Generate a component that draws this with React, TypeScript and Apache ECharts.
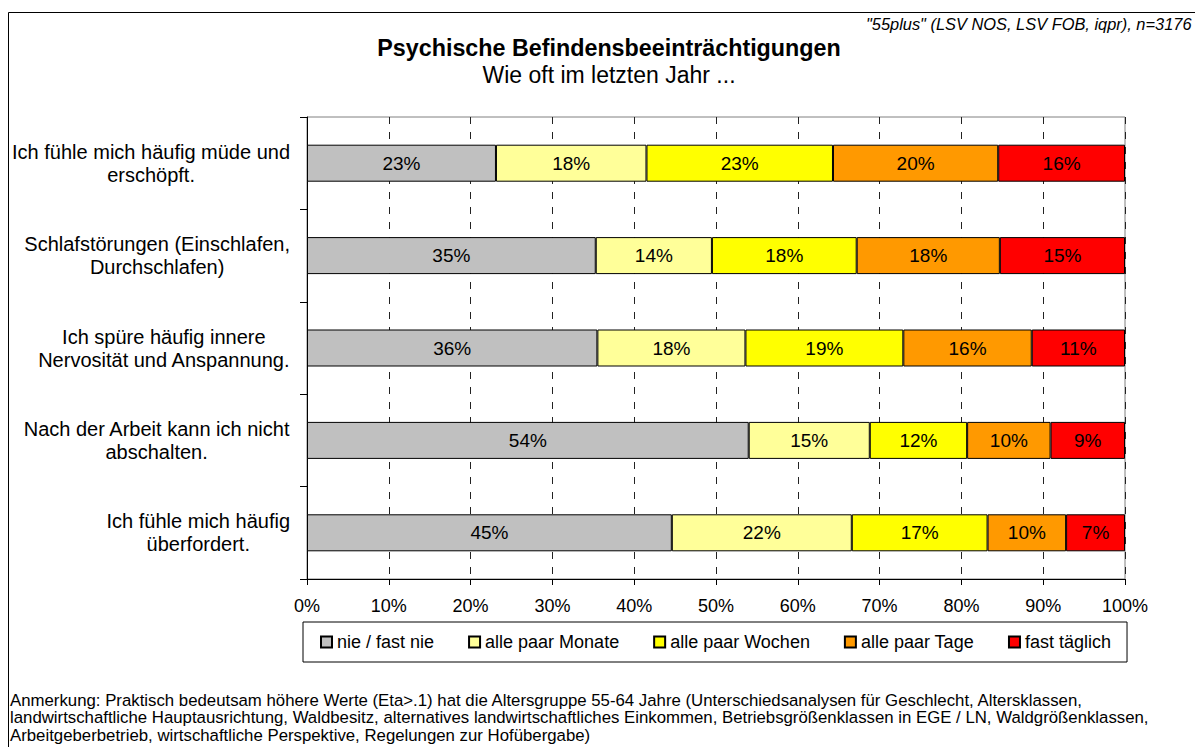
import React, { useEffect, useRef } from "react";
import * as echarts from "echarts";

const FONT = "'Liberation Sans', Arial, Helvetica, sans-serif";

const categories = [
  "Ich fühle mich häufig müde und\nerschöpft.",
  "Schlafstörungen (Einschlafen,\nDurchschlafen)",
  "Ich spüre häufig innere\nNervosität und Anspannung.",
  "Nach der Arbeit kann ich nicht\nabschalten.",
  "Ich fühle mich häufig\nüberfordert.",
];

const seriesNames = [
  "nie / fast nie",
  "alle paar Monate",
  "alle paar Wochen",
  "alle paar Tage",
  "fast täglich",
];

const nieFastNie = [23.1, 35.3, 35.5, 54.0, 44.6];
const allePaarMonate = [18.4, 14.2, 18.1, 14.8, 22.0];
const allePaarWochen = [22.8, 17.7, 19.3, 11.9, 16.6];
const allePaarTage = [20.2, 17.5, 15.7, 10.2, 9.6];
const fastTaeglich = [15.5, 15.3, 11.4, 9.1, 7.2];

const seriesValues = [nieFastNie, allePaarMonate, allePaarWochen, allePaarTage, fastTaeglich];
const seriesColors = ["#C0C0C0", "#FFFF99", "#FFFF00", "#FF9900", "#FF0000"];

const xTicks = { min: 0, max: 100, interval: 10 };

const titleText = "Psychische Befindensbeeinträchtigungen";
const subtitleText = "Wie oft im letzten Jahr ...";
const sourceText = '"55plus" (LSV NOS, LSV FOB, iqpr), n=3176';
const noteText =
  "Anmerkung: Praktisch bedeutsam höhere Werte (Eta>.1) hat die Altersgruppe 55-64 Jahre (Unterschiedsanalysen für Geschlecht, Altersklassen,\n" +
  "landwirtschaftliche Hauptausrichtung, Waldbesitz, alternatives landwirtschaftliches Einkommen, Betriebsgrößenklassen in EGE / LN, Waldgrößenklassen,\n" +
  "Arbeitgeberbetrieb, wirtschaftliche Perspektive, Regelungen zur Hofübergabe)";

export default function App() {
  const ref = useRef<HTMLDivElement>(null);

  useEffect(() => {
    if (!ref.current) return;
    const chart = echarts.init(ref.current, undefined, { renderer: "svg" });

    const option: any = {
      animation: false,
      backgroundColor: "#ffffff",
      textStyle: { fontFamily: FONT, color: "#000" },
      grid: {
        left: 307,
        right: 70,
        top: 117,
        bottom: 168,
        show: true,
        borderColor: "#808080",
        borderWidth: 1,
        backgroundColor: "transparent",
      },
      xAxis: {
        type: "value",
        min: xTicks.min,
        max: xTicks.max,
        interval: xTicks.interval,
        axisLine: { show: true, lineStyle: { color: "#000", width: 1 } },
        axisTick: { show: true, length: 6, lineStyle: { color: "#000" } },
        axisLabel: {
          formatter: "{value}%",
          fontSize: 18,
          color: "#000",
          fontFamily: FONT,
          margin: 18,
        },
        splitLine: {
          show: true,
          lineStyle: { color: "#222", width: 1, type: [7, 8] },
        },
      },
      yAxis: {
        type: "category",
        inverse: true,
        data: categories,
        axisLine: { show: true, lineStyle: { color: "#000", width: 1 } },
        axisTick: { show: true, length: 7, lineStyle: { color: "#000" } },
        axisLabel: {
          margin: 17,
          formatter: (v: string) =>
            v
              .split("\n")
              .map((l) => `{c|${l}}`)
              .join("\n"),
          rich: {
            c: {
              fontSize: 20,
              lineHeight: 23,
              align: "center",
              color: "#000",
              fontFamily: FONT,
            },
          },
        },
        splitLine: { show: false },
      },
      legend: {
        left: 303,
        top: 622,
        orient: "horizontal",
        itemWidth: 11,
        itemHeight: 11,
        itemGap: 34,
        padding: [11, 16, 11, 17],
        borderColor: "#000",
        borderWidth: 1,
        icon: "rect",
        textStyle: { fontSize: 18, color: "#000", fontFamily: FONT },
        data: seriesNames,
      },
      series: seriesNames.map((name, i) => ({
        name,
        type: "bar",
        stack: "total",
        barWidth: 37,
        data: seriesValues[i],
        itemStyle: {
          color: seriesColors[i],
          borderColor: "#000",
          borderWidth: 1,
        },
        label: {
          show: true,
          position: "inside",
          formatter: (p: any) => `${Math.round(p.value)}%`,
          fontSize: 19,
          color: "#000",
          fontFamily: FONT,
        },
        emphasis: { disabled: true },
      })),
      graphic: [
        {
          type: "rect",
          silent: true,
          z: -1,
          shape: { x: 8.5, y: 12.5, width: 1400, height: 1000 },
          style: { fill: "none", stroke: "#000", lineWidth: 1 },
        },
        {
          type: "text",
          x: 609,
          y: 47.5,
          style: {
            text: titleText,
            fontSize: 23.3,
            fontWeight: "bold",
            fontFamily: FONT,
            fill: "#000",
            align: "center",
            verticalAlign: "middle",
          },
        },
        {
          type: "text",
          x: 609,
          y: 75,
          style: {
            text: subtitleText,
            fontSize: 23,
            fontFamily: FONT,
            fill: "#000",
            align: "center",
            verticalAlign: "middle",
          },
        },
        {
          type: "text",
          x: 866,
          y: 24,
          style: {
            text: sourceText,
            fontSize: 16.4,
            fontStyle: "italic",
            fontFamily: FONT,
            fill: "#000",
            align: "left",
            verticalAlign: "middle",
          },
        },
        {
          type: "text",
          x: 10,
          y: 691.5,
          style: {
            text: noteText,
            fontSize: 16.8,
            lineHeight: 17.5,
            fontFamily: FONT,
            fill: "#000",
            align: "left",
            verticalAlign: "top",
          },
        },
      ],
    };

    chart.setOption(option);
    return () => chart.dispose();
  }, []);

  return (
    <div
      ref={ref}
      style={{ position: "absolute", left: 0, top: 0, width: 1195, height: 747, background: "#fff" }}
    />
  );
}
